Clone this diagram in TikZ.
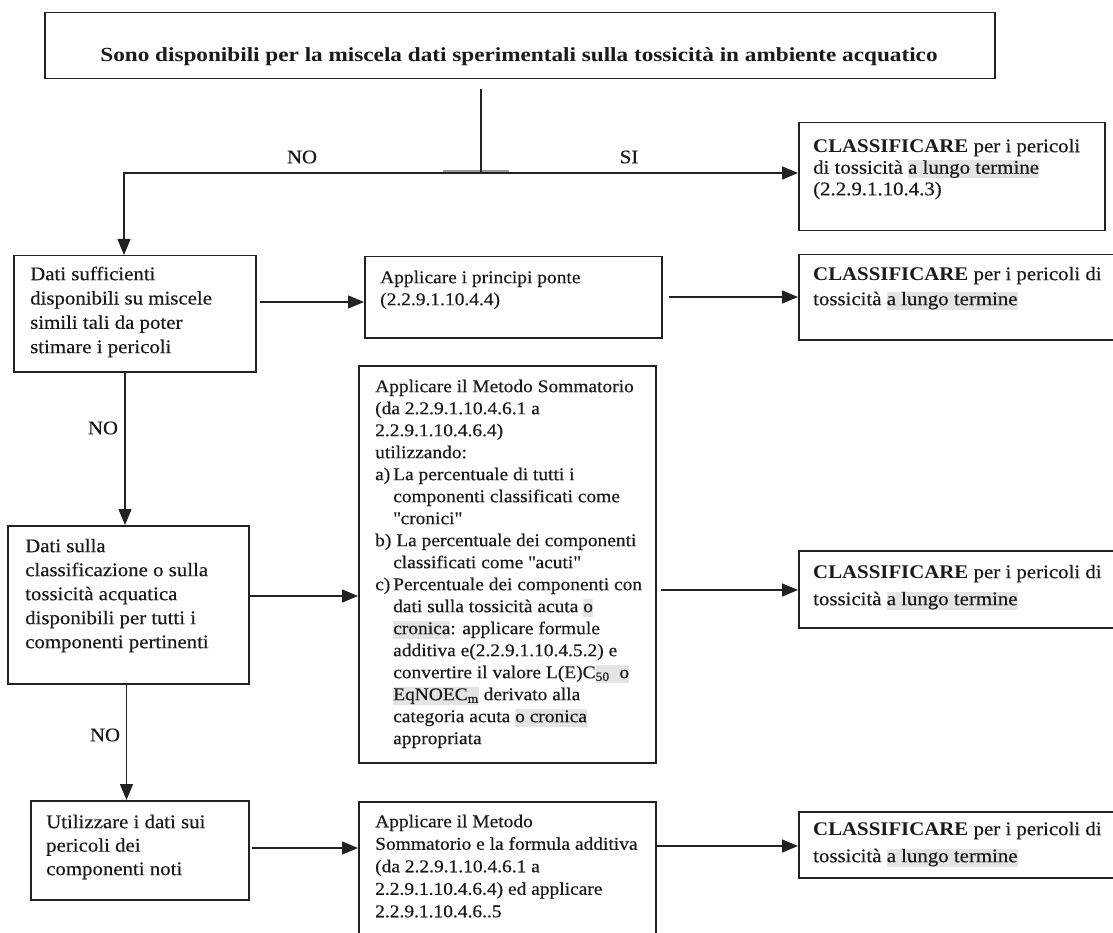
\documentclass[tikz,border=0pt]{standalone}
\usepackage{fontspec}
\setmainfont{Liberation Serif}[FakeStretch=1.08, UprightFeatures={FakeBold=0.4}]
\newfontfamily\headfont{Liberation Serif}[FakeStretch=1.16]
\usetikzlibrary{arrows.meta,calc}

\definecolor{ink}{HTML}{1A1A1A}
\definecolor{rulec}{HTML}{222222}
\definecolor{hlgray}{HTML}{E4E4E4}
\definecolor{tickc}{HTML}{9A9A9A}

% grey text highlight
\newcommand\hl[1]{{\setlength{\fboxsep}{0pt}\colorbox{hlgray}{\vrule height 13.5pt depth 4.5pt width 0pt#1}}}
% body text: 18pt for the long boxes, 19.3pt elsewhere
\newcommand\bodysize[1]{\fontsize{18}{#1}\selectfont}
\newcommand\bigsize[1]{\fontsize{19.3}{#1}\selectfont}
\newcommand\ind{\hspace*{18pt}}
\newcommand\dq{\textquotedbl}

\begin{document}
\begin{tikzpicture}[x=1pt,y=-1pt,
  frame/.style={draw=rulec, line width=1.5pt, anchor=north west, inner sep=0pt},
  words/.style={anchor=north west, inner sep=0pt, align=left, text=ink},
  tag/.style={inner sep=0pt, text=ink, font=\bigsize{22}},
  link/.style={draw=rulec, line width=1.5pt, -{Triangle[length=16pt,width=13pt]}},
  plain/.style={draw=rulec, line width=1.5pt},
]
\useasboundingbox (0,0) rectangle (1113,933);
\fill[white] (0,0) rectangle (1113,933);

% ---------- frames ----------
\node[frame, minimum width=950pt, minimum height=66pt]  (top) at (44,12)  {};
\node[frame, minimum width=306pt, minimum height=108pt] (r1)  at (798,122) {};
\node[frame, minimum width=242pt, minimum height=116pt] (A)   at (13,255)  {};
\node[frame, minimum width=297pt, minimum height=81pt]  (B)   at (364,256) {};
\node[frame, minimum width=318pt, minimum height=85pt]  (r2)  at (798,254) {};
\node[frame, minimum width=297pt, minimum height=397pt] (E)   at (358,365) {};
\node[frame, minimum width=241pt, minimum height=158pt] (F)   at (7,525)   {};
\node[frame, minimum width=318pt, minimum height=77pt]  (r3)  at (798,550) {};
\node[frame, minimum width=218pt, minimum height=99pt]  (U)   at (30,800)  {};
\node[frame, minimum width=297pt, minimum height=140pt] (G)   at (358,801) {};
\node[frame, minimum width=318pt, minimum height=66pt]  (r4)  at (798,811) {};

% ---------- texts ----------
\node[anchor=base, inner sep=0pt, text=ink, font=\headfont\fontsize{20}{24}\selectfont\bfseries] (topt) at (519,62)
  {Sono disponibili per la miscela dati sperimentali sulla tossicità in ambiente acquatico};

\node[words, font=\bigsize{21.5}] (r1t) at (813,137) {\strut\textbf{CLASSIFICARE} per i pericoli\\
di tossicità \hl{a lungo termine}\\
(2.2.9.1.10.4.3)};

\node[words, font=\bigsize{24.3}] (At) at (30,263) {\strut Dati sufficienti\\
disponibili su miscele\\
simili tali da poter\\
stimare i pericoli};

\node[words, font=\bodysize{22}] (Bt) at (380,267.6) {\strut Applicare i principi ponte\\
(2.2.9.1.10.4.4)};

\node[words, font=\bigsize{25}] (r2t) at (813,262.5) {\strut\textbf{CLASSIFICARE} per i pericoli di\\
tossicità \hl{a lungo termine}};

\node[words, font=\bodysize{22}] (Et) at (375,376.6) {\strut Applicare il Metodo Sommatorio\\
(da 2.2.9.1.10.4.6.1 a\\
2.2.9.1.10.4.6.4)\\
utilizzando:\\
\makebox[18pt][l]{a)}La percentuale di tutti i\\
\ind componenti classificati come\\
\ind \dq cronici\dq\\
b) La percentuale dei componenti\\
\ind classificati come \dq acuti\dq\\
\makebox[18pt][l]{c)}Percentuale dei componenti con\\
\ind dati sulla tossicità acuta \hl{o}\\
\ind \hl{cronica}: applicare formule\\
\ind additiva e(2.2.9.1.10.4.5.2) e\\
\ind convertire il valore L(E)C\hl{\textsubscript{50}\ \ o}\\
\ind \hl{EqNOEC\textsubscript{m}} derivato alla\\
\ind categoria acuta \hl{o cronica}\\
\ind appropriata};

\node[words, font=\bigsize{24}] (Ft) at (25,535.2) {\strut Dati sulla\\
classificazione o sulla\\
tossicità acquatica\\
disponibili per tutti i\\
componenti pertinenti};

\node[words, font=\bigsize{27}] (r3t) at (813,559.1) {\strut\textbf{CLASSIFICARE} per i pericoli di\\
tossicità \hl{a lungo termine}};

\node[words, font=\bigsize{23.5}] (Ut) at (46,811.5) {\strut Utilizzare i dati sui\\
pericoli dei\\
componenti noti};

\node[words, font=\bodysize{22.5}] (Gt) at (375,811.3) {\strut Applicare il Metodo\\
Sommatorio e la formula additiva\\
(da 2.2.9.1.10.4.6.1 a\\
2.2.9.1.10.4.6.4) ed applicare\\
2.2.9.1.10.4.6..5};

\node[words, font=\bigsize{27}] (r4t) at (813,816.1) {\strut\textbf{CLASSIFICARE} per i pericoli di\\
tossicità \hl{a lungo termine}};

% ---------- branch labels ----------
\node[tag] (no1) at (302,157) {NO};
\node[tag] (si)  at (629,157) {SI};
\node[tag] (no2) at (103,428) {NO};
\node[tag] (no3) at (105,735) {NO};

% ---------- connectors ----------
\coordinate (stem)  at (481,89);
\coordinate (split) at (481,173);
\coordinate (lane1) at (124,0);
\coordinate (lane2) at (125,0);
\coordinate (lane3) at (126.5,0);
\coordinate (yAB) at (0,302);
\coordinate (yBD) at (0,297);
\coordinate (yFE) at (0,596);
\coordinate (yE3) at (0,590);
\coordinate (yUG) at (0,848);
\coordinate (yG4) at (0,846);

\draw[tickc, line width=2.6pt] (443,171.5) -- (509,171.5);
\draw[plain] (stem) -- (split);
\draw[link] (split) -- (split -| r1.west);
\draw[link] (split) -| (A.north -| lane1);

\draw[link] ($(A.east |- yAB)+(3,0)$) -- (B.west |- yAB);
\draw[link] ($(B.east |- yBD)+(6,0)$) -- (r2.west |- yBD);
\draw[link] (A.south -| lane2) -- (F.north -| lane2);
\draw[link] (F.east |- yFE) -- (E.west |- yFE);
\draw[link] ($(E.east |- yE3)+(4,0)$) -- (r3.west |- yE3);
\draw[link] (F.south -| lane3) -- (U.north -| lane3);
\draw[link] ($(U.east |- yUG)+(2,0)$) -- (G.west |- yUG);
\draw[link] (G.east |- yG4) -- (r4.west |- yG4);
\end{tikzpicture}
\end{document}
